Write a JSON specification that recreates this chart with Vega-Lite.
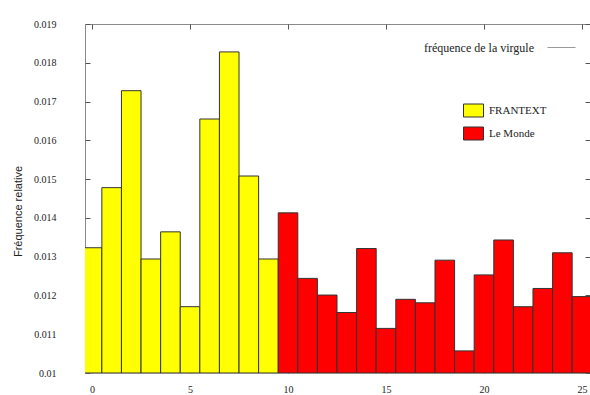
{
  "$schema": "https://vega.github.io/schema/vega-lite/v6.json",
  "width": 505,
  "height": 349,
  "autosize": {"type": "none"},
  "padding": {"left": 85, "top": 24, "right": 0, "bottom": 22},
  "background": "white",
  "config": {
    "view": {"stroke": "#8a8a8a", "strokeWidth": 1},
    "font": "Liberation Serif",
    "axis": {"grid": false, "domain": false, "tickColor": "#555555", "labelFont": "Liberation Serif", "labelFontSize": 10, "labelColor": "#222222"}
  },
  "datasets": {
    "bars": [
      {"k": 0, "lo": -0.5, "hi": 0.5, "freq": 0.01323, "source": "FRANTEXT"},
      {"k": 1, "lo": 0.5, "hi": 1.5, "freq": 0.01478, "source": "FRANTEXT"},
      {"k": 2, "lo": 1.5, "hi": 2.5, "freq": 0.01728, "source": "FRANTEXT"},
      {"k": 3, "lo": 2.5, "hi": 3.5, "freq": 0.01294, "source": "FRANTEXT"},
      {"k": 4, "lo": 3.5, "hi": 4.5, "freq": 0.01364, "source": "FRANTEXT"},
      {"k": 5, "lo": 4.5, "hi": 5.5, "freq": 0.01171, "source": "FRANTEXT"},
      {"k": 6, "lo": 5.5, "hi": 6.5, "freq": 0.01655, "source": "FRANTEXT"},
      {"k": 7, "lo": 6.5, "hi": 7.5, "freq": 0.01828, "source": "FRANTEXT"},
      {"k": 8, "lo": 7.5, "hi": 8.5, "freq": 0.01508, "source": "FRANTEXT"},
      {"k": 9, "lo": 8.5, "hi": 9.5, "freq": 0.01294, "source": "FRANTEXT"},
      {"k": 10, "lo": 9.5, "hi": 10.5, "freq": 0.01413, "source": "Le Monde"},
      {"k": 11, "lo": 10.5, "hi": 11.5, "freq": 0.01244, "source": "Le Monde"},
      {"k": 12, "lo": 11.5, "hi": 12.5, "freq": 0.01201, "source": "Le Monde"},
      {"k": 13, "lo": 12.5, "hi": 13.5, "freq": 0.01156, "source": "Le Monde"},
      {"k": 14, "lo": 13.5, "hi": 14.5, "freq": 0.01321, "source": "Le Monde"},
      {"k": 15, "lo": 14.5, "hi": 15.5, "freq": 0.01115, "source": "Le Monde"},
      {"k": 16, "lo": 15.5, "hi": 16.5, "freq": 0.0119, "source": "Le Monde"},
      {"k": 17, "lo": 16.5, "hi": 17.5, "freq": 0.01181, "source": "Le Monde"},
      {"k": 18, "lo": 17.5, "hi": 18.5, "freq": 0.01291, "source": "Le Monde"},
      {"k": 19, "lo": 18.5, "hi": 19.5, "freq": 0.01057, "source": "Le Monde"},
      {"k": 20, "lo": 19.5, "hi": 20.5, "freq": 0.01253, "source": "Le Monde"},
      {"k": 21, "lo": 20.5, "hi": 21.5, "freq": 0.01343, "source": "Le Monde"},
      {"k": 22, "lo": 21.5, "hi": 22.5, "freq": 0.01171, "source": "Le Monde"},
      {"k": 23, "lo": 22.5, "hi": 23.5, "freq": 0.01218, "source": "Le Monde"},
      {"k": 24, "lo": 23.5, "hi": 24.5, "freq": 0.0131, "source": "Le Monde"},
      {"k": 25, "lo": 24.5, "hi": 25.5, "freq": 0.01197, "source": "Le Monde"}
    ],
    "virgule": []
  },
  "resolve": {"axis": {"x": "independent", "y": "independent"}},
  "layer": [
    {
      "data": {"name": "bars"},
      "mark": {"type": "bar", "clip": true, "stroke": "#333333", "strokeWidth": 1},
      "encoding": {
        "x": {
          "field": "lo", "type": "quantitative",
          "scale": {"domain": [-0.36, 25.41], "nice": false, "zero": false},
          "axis": {"orient": "bottom", "values": [0, 5, 10, 15, 20, 25], "tickSize": -5, "labelPadding": 16, "title": null}
        },
        "x2": {"field": "hi"},
        "y": {
          "field": "freq", "type": "quantitative",
          "scale": {"domain": [0.01, 0.019], "nice": false, "zero": false},
          "axis": {
            "orient": "left",
            "values": [0.01, 0.011, 0.012, 0.013, 0.014, 0.015, 0.016, 0.017, 0.018, 0.019],
            "format": "~g", "tickSize": -5, "labelPadding": 34,
            "title": "Fréquence relative", "titleFont": "Liberation Sans", "titleFontSize": 11, "titleFontWeight": "normal", "titleColor": "#222222",
            "titleAngle": 270, "titleAlign": "center", "titleBaseline": "middle", "titleX": -67, "titleY": 187
          }
        },
        "y2": {"datum": 0.01},
        "color": {
          "field": "source", "type": "nominal",
          "scale": {"domain": ["FRANTEXT", "Le Monde"], "range": ["#ffff00", "#ff0000"]},
          "legend": {
            "title": null, "orient": "none", "legendX": 378, "legendY": 76,
            "symbolType": "M-1,-0.65H1V0.65H-1Z", "symbolSize": 400, "symbolStrokeColor": "#333333", "symbolStrokeWidth": 1,
            "labelFont": "Liberation Serif", "labelFontSize": 11, "labelColor": "#222222", "labelOffset": 5, "rowPadding": 4
          }
        }
      }
    },
    {
      "data": {"name": "virgule"},
      "mark": {"type": "line", "strokeWidth": 1},
      "encoding": {
        "x": {
          "field": "k", "type": "quantitative",
          "scale": {"domain": [-0.36, 25.41], "nice": false, "zero": false},
          "axis": {"orient": "top", "values": [0, 5, 10, 15, 20, 25], "tickSize": -5, "labels": false, "title": null}
        },
        "y": {
          "field": "freq", "type": "quantitative",
          "scale": {"domain": [0.01, 0.019], "nice": false, "zero": false},
          "axis": {"orient": "right", "values": [0.01, 0.011, 0.012, 0.013, 0.014, 0.015, 0.016, 0.017, 0.018, 0.019], "tickSize": -5, "labels": false, "title": null}
        },
        "stroke": {
          "field": "series", "type": "nominal",
          "scale": {"domain": ["fréquence de la virgule"], "range": ["#999999"]},
          "legend": {
            "title": null, "orient": "none", "legendX": 462, "legendY": 9,
            "symbolType": "stroke", "symbolSize": 784, "symbolStrokeWidth": 1,
            "labelFont": "Liberation Serif", "labelFontSize": 12, "labelColor": "#222222", "labelAlign": "right", "labelOffset": -42
          }
        }
      }
    }
  ]
}
